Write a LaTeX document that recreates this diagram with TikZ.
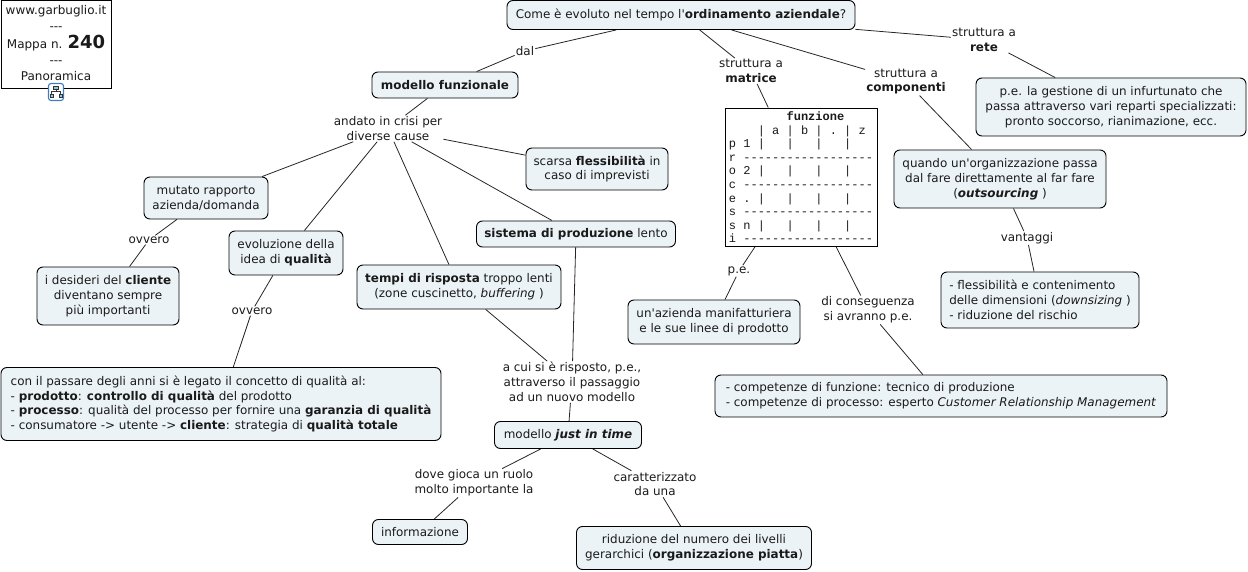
\documentclass[tikz,border=0pt]{standalone}
\usepackage{fontspec}
\setmainfont{DejaVu Sans}
\setmonofont{Liberation Mono}
\pgfdeclarelayer{bg}
\pgfsetlayers{bg,main}
\definecolor{boxfill}{HTML}{ECF3F6}
\definecolor{ink}{HTML}{1A1A1A}
\definecolor{iconblue}{HTML}{3F7FBF}
\tikzset{
  base/.style={inner sep=1pt,align=center,font=\fontsize{11.95}{14.9}\selectfont,text=ink},
  lab/.style={base},
  cbox/.style={base,draw=black,line width=0.9pt,fill=boxfill,rounded corners=6pt},
  sbox/.style={base,draw=black,line width=0.9pt,fill=white},
  link/.style={draw=black!85,line width=0.8pt},
  sz/.style 2 args={minimum width=#1pt,minimum height=#2pt},
}
\begin{document}
\begin{tikzpicture}[x=1pt,y=-1pt]
\useasboundingbox (0,0) rectangle (1248,572);
% title
\node[sbox,sz={110}{88},font=\fontsize{12}{16}\selectfont] (title) at (56,44) {\raisebox{-0.5pt}[\height][\depth]{\begin{tabular}{@{}c@{}}www.garbuglio.it\\{-}{-}{-}\\Mappa n. {\fontsize{18}{15}\selectfont\textbf{240}}\\{-}{-}{-}\\Panoramica\end{tabular}}};
% icon
\node[draw=iconblue,fill=white,rounded corners=2.5pt,line width=1.1pt,minimum width=15pt,minimum height=17pt,inner sep=0pt] (icon) at (56,92) {};
\draw[black!80,line width=0.6pt,fill=iconblue!50] (53.5,86) rectangle (58.5,89);
\draw[black!80,line width=0.6pt] (56,89)--(56,91.5) (51.5,94)--(51.5,91.5)--(60.5,91.5)--(60.5,94);
\draw[black!80,line width=0.6pt,fill=iconblue!50] (50,94) rectangle (53,97.5) (59,94) rectangle (62,97.5);
% concepts
\node[cbox,sz={348}{29}] (root) at (681,15) {Come è evoluto nel tempo l\textquotesingle\textbf{ordinamento aziendale}?};
\node[cbox,sz={146}{26}] (mf) at (445,85) {\textbf{modello funzionale}};
\node[cbox,sz={142}{42}] (scarsa) at (597,169) {scarsa \textbf{flessibilità} in\\caso di imprevisti};
\node[cbox,sz={124}{42}] (mutato) at (206,198) {mutato rapporto\\azienda/domanda};
\node[cbox,sz={114}{44}] (evol) at (286,253) {evoluzione della\\idea di \textbf{qualità}};
\node[cbox,sz={199}{26}] (sist) at (576,234) {\textbf{sistema di produzione} lento};
\node[cbox,sz={204}{44}] (tempi) at (459,287) {\textbf{tempi di risposta} troppo lenti\\(zone cuscinetto, \textit{buffering} )};
\node[cbox,sz={142}{58}] (desid) at (108,296) {i desideri del \textbf{cliente}\\diventano sempre\\più importanti};
\node[cbox,sz={440}{73},align=left] (passare) at (221,404) {con il passare degli anni si è legato il concetto di qualità al:\\- \textbf{prodotto}: \textbf{controllo di qualità} del prodotto\\- \textbf{processo}: qualità del processo per fornire una \textbf{garanzia di qualità}\\- consumatore -> utente -> \textbf{cliente}: strategia di \textbf{qualità totale}};
\node[cbox,sz={147}{27}] (jit) at (568,435) {modello \textbf{\textit{just in time}}};
\node[cbox,sz={95}{25}] (info) at (420,532) {informazione};
\node[cbox,sz={235}{43}] (rid) at (694,548) {riduzione del numero dei livelli\\gerarchici (\textbf{organizzazione piatta})};
\node[sbox,sz={152}{138},inner sep=0pt] (matr) at (801,177) {\raisebox{-2pt}[\height][\depth]{\fontsize{12}{13.6}\selectfont\ttfamily\begin{tabular}{@{}l@{}}
~~~~~~~~\textbf{funzione}\\
~~~~| a | b | . | z\\
p 1 |~~~|~~~|~~~|\\
r ------------------\\
o 2 |~~~|~~~|~~~|\\
c ------------------\\
e . |~~~|~~~|~~~|\\
s ------------------\\
s n |~~~|~~~|~~~|\\
i ------------------
\end{tabular}}};
\node[cbox,sz={172}{44}] (azienda) at (714,322) {un\textquotesingle azienda manifatturiera\\e le sue linee di prodotto};
\node[cbox,sz={452}{42},align=left] (compet) at (941,396) {- competenze di funzione: tecnico di produzione\\- competenze di processo: esperto \textit{Customer Relationship Management}};
\node[cbox,sz={212}{58}] (outs) at (1000,179) {quando un\textquotesingle organizzazione passa\\dal fare direttamente al far fare\\(\textbf{\textit{outsourcing}} )};
\node[cbox,sz={198}{56},align=left] (flex) at (1040,300) {- flessibilità e contenimento\\delle dimensioni (\textit{downsizing} )\\- riduzione del rischio};
\node[cbox,sz={270}{58}] (pe) at (1111,107) {p.e. la gestione di un infurtunato che\\passa attraverso vari reparti specializzati:\\pronto soccorso, rianimazione, ecc.};
% linking phrases
\node[lab] (dal) at (525,51) {dal};
\node[lab] (lmatr) at (751,71) {struttura a\\\textbf{matrice}};
\node[lab] (lcomp) at (906,81.5) {struttura a\\\textbf{componenti}};
\node[lab] (lrete) at (984,40) {struttura a\\\textbf{rete}};
\node[lab] (crisi) at (388,128.5) {andato in crisi per\\diverse cause};
\node[lab] (ov1) at (149,240) {ovvero};
\node[lab] (ov2) at (252,311) {ovvero};
\node[lab] (acui) at (572,382) {a cui si è risposto, p.e.,\\attraverso il passaggio\\ad un nuovo modello};
\node[lab] (dove) at (474,483) {dove gioca un ruolo\\molto importante la};
\node[lab] (car) at (655,484) {caratterizzato\\da una};
\node[lab] (lpe) at (739,271) {p.e.};
\node[lab] (cons) at (868,310) {di conseguenza\\si avranno p.e.};
\node[lab] (vant) at (1027,238) {vantaggi};
% connectors
\begin{pgfonlayer}{bg}
\foreach \a/\b in {root/dal,dal/mf,root/lmatr,lmatr/matr,root/lcomp,lcomp/outs,root/lrete,lrete/pe,
  mf/crisi,crisi/mutato,crisi/evol,crisi/tempi,crisi/sist,crisi/scarsa,
  mutato/ov1,ov1/desid,evol/ov2,ov2/passare,tempi/acui,sist/acui,acui/jit,
  jit/dove,jit/car,dove/info,car/rid,matr/lpe,lpe/azienda,matr/cons,cons/compet,outs/vant,vant/flex}
  {\draw[link] (\a) -- (\b);}
\end{pgfonlayer}
\end{tikzpicture}
\end{document}
